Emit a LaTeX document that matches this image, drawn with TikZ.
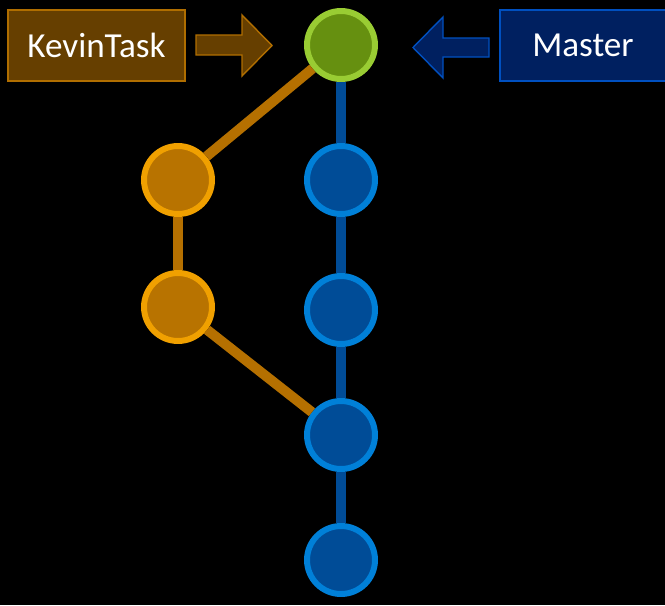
\documentclass[tikz,border=0pt]{standalone}
\usepackage{fontspec}
\setmainfont{Carlito}
\usetikzlibrary{positioning}

\definecolor{taskfill}{HTML}{663F00}
\definecolor{taskline}{HTML}{B06E00}
\definecolor{orfill}{HTML}{B87300}
\definecolor{orline}{HTML}{F0A000}
\definecolor{orwire}{HTML}{B57000}
\definecolor{grfill}{HTML}{669010}
\definecolor{grline}{HTML}{99CC33}
\definecolor{blfill}{HTML}{004C97}
\definecolor{blline}{HTML}{0080D8}
\definecolor{mastfill}{HTML}{002060}
\definecolor{mastline}{HTML}{0050C0}

\tikzset{
  commit/.style={circle, minimum size=1.36cm, inner sep=0pt, line width=3.4pt},
  label box/.style={rectangle, line width=1.2pt, text=white, font=\fontsize{20}{24}\selectfont,
                    minimum height=1.42cm, inner sep=0pt},
}

\begin{document}
\begin{tikzpicture}[x=0.02cm, y=-0.02cm]
            \fill[black] (0,0) rectangle (665,605);
            \useasboundingbox (0,0) rectangle (665,605);

            \node[commit, draw=grline, fill=grfill](head) at (341,45)  {};
            \node[commit, draw=orline, fill=orfill](K1)   at (178,180) {};
            \node[commit, draw=orline, fill=orfill](K2)   at (178,307) {};
            \node[commit, draw=blline, fill=blfill](M1)   at (341,180) {};
            \node[commit, draw=blline, fill=blfill](M2)   at (341,310) {};
            \node[commit, draw=blline, fill=blfill](M3)   at (341,435) {};
            \node[commit, draw=blline, fill=blfill](M4)   at (341,560) {};

            \node[label box, draw=taskline, fill=taskfill, minimum width=3.54cm](kevin)  at (96.5,45.5) {KevinTask};
            \node[label box, draw=mastline, fill=mastfill, minimum width=3.32cm](master) at (583,45.5)  {Master};

            % pointers
            \draw[taskline, fill=taskfill, line width=0.8pt]
                (196,35) -- (242,35) -- (242,15) -- (272,45.5) -- (242,76) -- (242,55) -- (196,55) -- cycle;
            \draw[mastline, fill=mastfill, line width=0.8pt]
                (489,38) -- (443,38) -- (443,17) -- (413,47.5) -- (443,78) -- (443,57) -- (489,57) -- cycle;

            \path[line width=5.7pt]
                (head) edge [orwire] (K1)
                       edge [blfill] (M1)
                (K1)   edge [orwire] (K2)
                (K2)   edge [orwire] (M3)
                (M1)   edge [blfill] (M2)
                (M2)   edge [blfill] (M3)
                (M3)   edge [blfill] (M4)
                ;
        \end{tikzpicture}
\end{document}
